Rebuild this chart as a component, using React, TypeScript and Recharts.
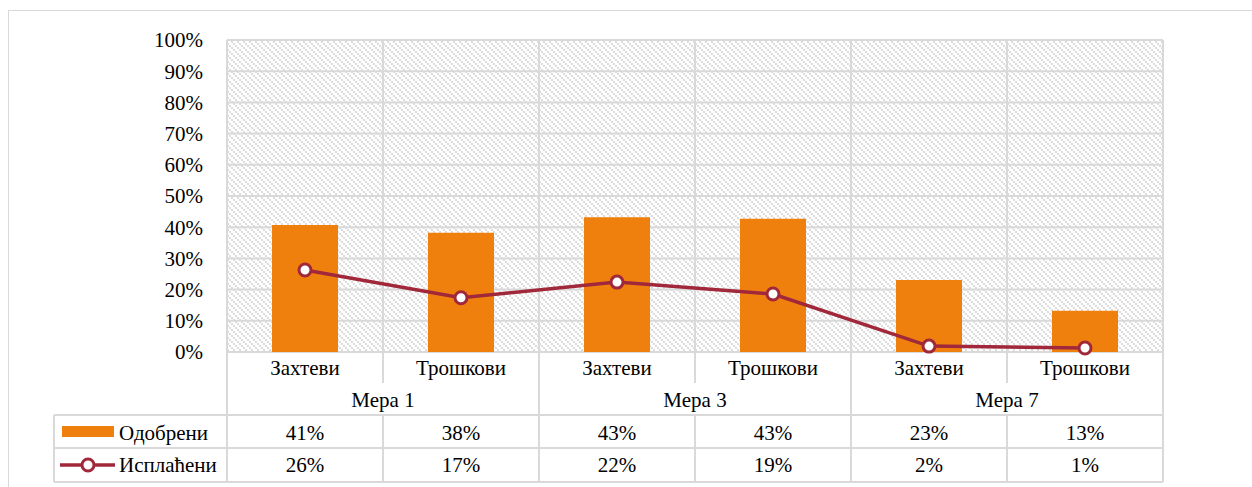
import React from 'react';
import {
  ComposedChart,
  Bar,
  Line,
  XAxis,
  YAxis,
  CartesianGrid,
} from 'recharts';

const categories = ['Захтеви', 'Трошкови', 'Захтеви', 'Трошкови', 'Захтеви', 'Трошкови'];
const groups = ['Мера 1', 'Мера 3', 'Мера 7'];
const approved = [40.7, 38.2, 43.2, 42.7, 23.1, 13.2];
const paid = [26.3, 17.4, 22.4, 18.6, 1.9, 1.3];
const yTicks = [0, 10, 20, 30, 40, 50, 60, 70, 80, 90, 100];

const seriesNames = { approved: 'Одобрени', paid: 'Исплаћени' };

const data = categories.map((name, i) => ({
  name,
  approved: approved[i],
  paid: paid[i],
}));

const FONT = '"Liberation Serif", "Times New Roman", serif';
const FS = 21;
const ORANGE = '#F0800E';
const RED = '#A0283A';
const GRID = '#d9d9d9';

const CHART_W = 1240;
const CHART_H = 476;
const MARGIN = { top: 29, right: 0, bottom: 0, left: 0 };
const LEFT_W = 218;
const RIGHT_W = 86;
const PLOT_W = CHART_W - LEFT_W - RIGHT_W;
const BW = PLOT_W / categories.length;

const pct = (v: number) => `${Math.round(v)}%`;

const txt = (x: number, y: number, s: string, anchor = 'middle') => (
  <text x={x} y={y} dy="0.35em" textAnchor={anchor} fontFamily={FONT} fontSize={FS} fill="#000">
    {s}
  </text>
);

const YTick = (props: any) => {
  const { x, y, payload, anchor } = props;
  return txt(x, y, `${payload.value}%`, anchor);
};

const TableTick = (props: any) => {
  const { x, y, payload } = props;
  const i = props.index ?? payload.index;
  const l = x - BW / 2;
  const r = x + BW / 2;
  const sw = 2;
  return (
    <g>
      {/* category row */}
      {txt(x, y + 16, categories[i])}
      <line x1={l} x2={l} y1={y} y2={y + 31} stroke={GRID} strokeWidth={sw} />
      {i === categories.length - 1 && <line x1={r} x2={r} y1={y} y2={y + 130} stroke={GRID} strokeWidth={sw} />}
      {/* group row */}
      {i % 2 === 0 && txt(r, y + 48, groups[i / 2])}
      {i % 2 === 0 && <line x1={l} x2={l} y1={y + 31} y2={y + 63} stroke={GRID} strokeWidth={sw} />}
      {/* table rows */}
      <line x1={l} x2={l} y1={y + 63} y2={y + 130} stroke={GRID} strokeWidth={sw} />
      <line x1={l} x2={r} y1={y + 63} y2={y + 63} stroke={GRID} strokeWidth={sw} />
      <line x1={l} x2={r} y1={y + 96} y2={y + 96} stroke={GRID} strokeWidth={sw} />
      <line x1={l} x2={r} y1={y + 130} y2={y + 130} stroke={GRID} strokeWidth={sw} />
      {txt(x, y + 81, pct(approved[i]))}
      {txt(x, y + 113, pct(paid[i]))}
      {/* legend column */}
      {i === 0 && (
        <g>
          <line x1={l - 173} x2={l - 173} y1={y + 63} y2={y + 130} stroke={GRID} strokeWidth={sw} />
          <line x1={l - 173} x2={l} y1={y + 63} y2={y + 63} stroke={GRID} strokeWidth={sw} />
          <line x1={l - 173} x2={l} y1={y + 96} y2={y + 96} stroke={GRID} strokeWidth={sw} />
          <line x1={l - 173} x2={l} y1={y + 130} y2={y + 130} stroke={GRID} strokeWidth={sw} />
          <rect x={l - 165} y={y + 74} width={52} height={11} fill={ORANGE} />
          {txt(l - 108, y + 81, seriesNames.approved, 'start')}
          <line x1={l - 167} x2={l - 112} y1={y + 113} y2={y + 113} stroke={RED} strokeWidth={3.5} />
          <circle cx={l - 139} cy={y + 113} r={6} fill="#fff" stroke={RED} strokeWidth={3} />
          {txt(l - 108, y + 113, seriesNames.paid, 'start')}
        </g>
      )}
    </g>
  );
};

export default function App() {
  return (
    <div
      style={{
        position: 'fixed',
        left: 8,
        top: 10,
        width: 1250,
        height: 480,
        borderTop: `1px solid ${GRID}`,
        borderLeft: `1px solid ${GRID}`,
        background: '#fff',
        fontFamily: FONT,
      }}
    >
      <ComposedChart width={CHART_W} height={CHART_H} data={data} margin={MARGIN}>
        <defs>
          <pattern id="hatch" width="6" height="6" patternUnits="userSpaceOnUse">
            <rect width="6" height="6" fill="#fff" />
            <rect x="0" y="0" width="2" height="2" fill="#dcdcdc" />
            <rect x="2" y="2" width="2" height="2" fill="#dcdcdc" />
            <rect x="4" y="4" width="2" height="2" fill="#dcdcdc" />
          </pattern>
        </defs>
        <CartesianGrid
          yAxisId="left"
          stroke={GRID}
          strokeWidth={2}
          fill="url(#hatch)"
          verticalCoordinatesGenerator={({ offset }: any) =>
            categories.map((_, k) => offset.left + k * offset.width / categories.length).concat(offset.left + offset.width)
          }
        />
        <XAxis
          dataKey="name"
          interval={0}
          height={135}
          axisLine={false}
          tickLine={false}
          tickSize={0}
          tickMargin={0}
          tick={(p: any) => <TableTick {...p} />}
        />
        <YAxis
          yAxisId="left"
          width={LEFT_W}
          domain={[0, 100]}
          ticks={yTicks}
          axisLine={false}
          tickLine={false}
          tickSize={0}
          tickMargin={24}
          tick={(p: any) => <YTick {...p} anchor="end" />}
        />
        <YAxis
          yAxisId="right"
          orientation="right"
          width={RIGHT_W}
          domain={[0, 100]}
          ticks={yTicks}
          axisLine={false}
          tickLine={false}
          tickSize={0}
          tickMargin={21}
          tick={(p: any) => <YTick {...p} anchor="start" />}
        />
        <Bar yAxisId="left" dataKey="approved" name={seriesNames.approved} fill={ORANGE} barSize={66} isAnimationActive={false} />
        <Line
          yAxisId="left"
          dataKey="paid"
          name={seriesNames.paid}
          stroke={RED}
          strokeWidth={3.5}
          dot={{ r: 6, fill: '#fff', stroke: RED, strokeWidth: 3 }}
          isAnimationActive={false}
        />
      </ComposedChart>
    </div>
  );
}
